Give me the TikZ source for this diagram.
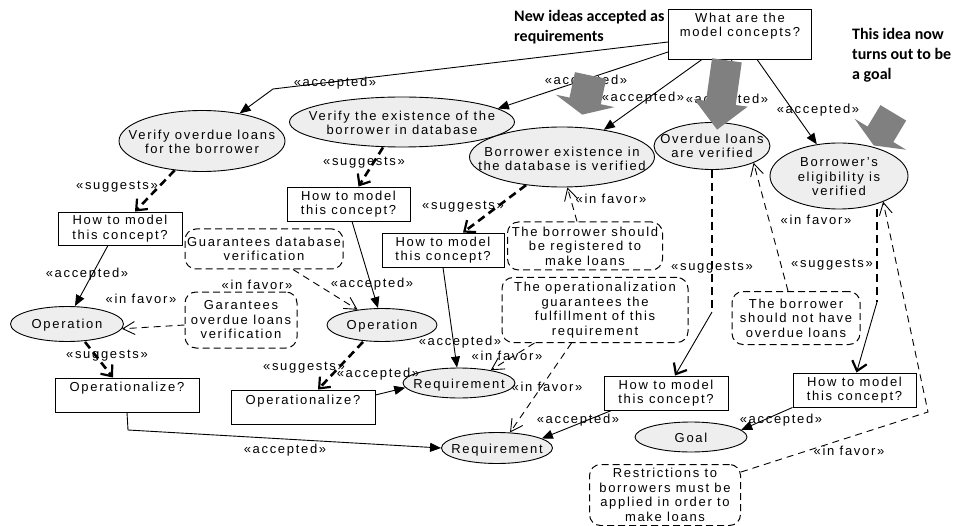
\documentclass[tikz,border=0pt]{standalone}
\usepackage{fontspec}
\setmainfont{Liberation Sans}[LetterSpace=13]
\newfontfamily\calloutfont{Carlito}
\usetikzlibrary{arrows.meta,shapes.geometric,calc}
\definecolor{conceptfill}{RGB}{238,238,238}
\definecolor{pointergray}{RGB}{128,128,128}

\tikzset{
  concept/.style={ellipse, draw=black, line width=0.9pt, fill=conceptfill, inner sep=0pt},
  ctext/.style={align=center, inner sep=0pt},
  qbox/.style={rectangle, draw=black, line width=0.9pt, fill=white, align=center, inner sep=0pt},
  note/.style={rectangle, rounded corners=11pt, draw=black, line width=1pt,
    dash pattern=on 7pt off 4pt, fill=white, align=center, inner sep=0pt},
  callout/.style={align=left, inner sep=0pt, anchor=north west,
    font=\calloutfont\bfseries\fontsize{16}{20}\selectfont},
  lbl/.style={inner sep=0pt},
  acc/.style={draw=black, line width=0.9pt, -{Triangle[length=11pt, width=9pt]}},
  sugg/.style={draw=black, line width=2.6pt, dash pattern=on 8pt off 5pt,
    -{Straight Barb[length=9pt, width=15pt, line width=2.2pt]}},
  sugline/.style={draw=black, line width=2.6pt, dash pattern=on 8pt off 5pt},
  thinbarb/.style={draw=black, line width=0.9pt,
    -{Straight Barb[length=9pt, width=15pt, line width=2.2pt]}},
  fav/.style={draw=black, line width=0.9pt, dash pattern=on 7pt off 5pt,
    -{Straight Barb[length=12pt, width=13pt, line width=0.9pt]}},
  pointer/.style={fill=pointergray, draw=none}
}

\begin{document}
\begin{tikzpicture}[x=1pt, y=-1pt,
  every node/.style={font=\fontsize{13}{14.5}\selectfont}]
\useasboundingbox (0,0) rectangle (965,526);
\fill[white] (0,0) rectangle (965,526);

% ---------- question boxes ----------
\node[qbox, minimum width=143, minimum height=50] (q0) at (740,34) {};
\node[ctext] (q0t) at (740,26) {What are the\\model concepts?};
\node[qbox, minimum width=124, minimum height=33] (howl) at (120,228.5) {How to model\\this concept?};
\node[qbox, minimum width=123, minimum height=34] (howm1) at (348.5,204) {How to model\\this concept?};
\node[qbox, minimum width=122, minimum height=34] (howm2) at (443,250) {How to model\\this concept?};
\node[qbox, minimum width=124, minimum height=34] (howc) at (666,393) {How to model\\this concept?};
\node[qbox, minimum width=123, minimum height=34] (howr) at (854.5,390) {How to model\\this concept?};
\node[qbox, minimum width=144, minimum height=34] (opzl) at (127,395) {};
\node[ctext] (opzlt) at (127,388) {Operationalize?};
\node[qbox, minimum width=144, minimum height=34] (opzm) at (303,407) {};
\node[ctext] (opzmt) at (303,401) {Operationalize?};

% ---------- concepts ----------
\node[concept, minimum width=166, minimum height=61] (vo) at (202,141) {};
\node[ctext] (vot) at (202,142) {Verify overdue loans\\for the borrower};
\node[concept, minimum width=225, minimum height=50] (ve) at (402,122) {};
\node[ctext] (vet) at (402,123) {Verify the existence of the\\borrower in database};
\node[concept, minimum width=185, minimum height=60] (be) at (562,157) {};
\node[ctext] (bet) at (562,159) {Borrower existence in\\the database is verified};
\node[concept, minimum width=116, minimum height=47] (ol) at (712,146) {};
\node[ctext] (olt) at (712,146) {Overdue loans\\are verified};
\node[concept, minimum width=138, minimum height=66] (bel) at (839,176) {};
\node[ctext] (belt) at (839,177) {Borrower's\\eligibility is\\verified};
\node[concept, minimum width=113, minimum height=35] (opl) at (67,324) {};
\node[ctext] (oplt) at (67,325) {Operation};
\node[concept, minimum width=110, minimum height=33] (opr) at (382,325) {};
\node[ctext] (oprt) at (382,326) {Operation};
\node[concept, minimum width=112, minimum height=30] (requ) at (459,383) {};
\node[ctext] (requt) at (459,385) {Requirement};
\node[concept, minimum width=111, minimum height=31] (reqb) at (497,448) {};
\node[ctext] (reqbt) at (497,450) {Requirement};
\node[concept, minimum width=112, minimum height=30] (goal) at (691,437) {};
\node[ctext] (goalt) at (691,438) {Goal};

% ---------- rationale notes ----------
\node[note, minimum width=158, minimum height=40] (gdv) at (264,249) {Guarantees database\\verification};
\node[note, minimum width=112, minimum height=56] (gol) at (241,320) {Garantees\\overdue loans\\verification};
\node[note, minimum width=155, minimum height=48] (bsr) at (585,246) {The borrower should\\be registered to\\make loans};
\node[note, minimum width=186, minimum height=65] (opz) at (595,310) {The operationalization\\guarantees the\\fulfillment of this\\requirement};
\node[note, minimum width=128, minimum height=53] (bno) at (796,318) {The borrower\\should not have\\overdue loans};
\node[note, minimum width=151, minimum height=61] (rst) at (665,495) {Restrictions to\\borrowers must be\\applied in order to\\make loans};

% ---------- callouts ----------
\node[callout] (ann1) at (514,10) {New ideas accepted as\\requirements};
\node[callout] (ann2) at (852,28) {This idea now\\turns out to be\\a goal};

% ---------- bends ----------
\coordinate (b1) at (273,89);
\coordinate (k4) at (712,312);
\coordinate (k5) at (877,302);
\coordinate (k10) at (128,430);
\coordinate (k7) at (928,412);

% ---------- accepted ----------
\draw[acc] ($(q0.west)+(0,8)$) -- (b1) -- (vo);
\draw[acc] ($(q0.west)+(0,18)$) -- (ve.8);
\draw[acc] ($(q0.south)+(-38,0)$) -- (be.33);
\draw[acc] ($(q0.south)+(-8,0)$) -- (ol.80);
\draw[acc] ($(q0.south)+(17,0)$) -- (bel.125);
\draw[acc] ($(howl.south)+(-12,0)$) -- ($(opl.north)+(8,0)$);
\draw[acc] ($(howm1.south)+(3.5,0)$) -- ($(opr.north)+(-4,0)$);
\draw[acc] (howm2.south) -- ($(requ.north)+(-2,0)$);
\draw[acc] ($(opzm.east)+(0,-12)$) -- (requ.185);
\draw[acc] (opzl.south) -- (k10) -- (reqb.west);
\draw[acc] ($(howc.south west)+(8,0)$) -- (reqb.12);
\draw[acc] (howr.south west) -- (goal.8);

% ---------- suggests ----------
\draw[sugg] (vo.-133) -- ($(howl.north)+(15,0)$);
\draw[sugg] ($(ve.south)+(-19,0)$) -- ($(howm1.north)+(10,0)$);
\draw[sugg] (be.-142) -- ($(howm2.north)+(20,0)$);
\draw[sugline] (ol.south) -- (k4);
\draw[thinbarb] (k4) -- ($(howc.north)+(9,0)$);
\draw[sugline] ($(bel.south)+(38,0)$) -- (k5);
\draw[thinbarb] (k5) -- ($(howr.north)+(2,0)$);
\draw[sugg] ($(opl.south)+(18,0)$) -- ($(opzl.north)+(-14,0)$);
\draw[sugg] ($(opr.south)+(-19,0)$) -- ($(opzm.north)+(15,0)$);

% ---------- in favor ----------
\draw[fav] ($(gol.west)+(0,5)$) -- (opl.-5);
\draw[fav] ($(gdv.south)+(29,0)$) -- (opr.148);
\draw[fav] ($(bsr.north)+(-8,0)$) -- (be.-80);
\draw[fav] ($(opz.south west)+(33,0)$) -- (requ.22);
\draw[fav] ($(opz.south west)+(70,0)$) -- (reqb.50);
\draw[fav] ($(bno.north)+(-8,0)$) -- (ol.-22);
\draw[fav] ($(rst.east)+(0,-23)$) -- (k7) -- ($(bel.south east)+(-5,2)$);

% ---------- connector labels ----------
\node[lbl] (la1) at (335,83) {«accepted»};
\node[lbl] (la2) at (586,81) {«accepted»};
\node[lbl] (la3) at (643,98) {«accepted»};
\node[lbl] (la4) at (727,100) {«accepted»};
\node[lbl] (la5) at (818,110) {«accepted»};
\node[lbl] (la6) at (87,274) {«accepted»};
\node[lbl] (la7) at (372,284) {«accepted»};
\node[lbl] (la8) at (460,342) {«accepted»};
\node[lbl] (la9) at (378,374) {«accepted»};
\node[lbl] (la10) at (285,450) {«accepted»};
\node[lbl] (la11) at (578,420) {«accepted»};
\node[lbl] (la12) at (781,420) {«accepted»};
\node[lbl] (ls1) at (117,187) {«suggests»};
\node[lbl] (ls2) at (364,163) {«suggests»};
\node[lbl] (ls3) at (463,207) {«suggests»};
\node[lbl] (ls4) at (712,268) {«suggests»};
\node[lbl] (ls5) at (832,265) {«suggests»};
\node[lbl] (ls6) at (107,356) {«suggests»};
\node[lbl] (ls7) at (304,368) {«suggests»};
\node[lbl] (lf1) at (141,299) {«in favor»};
\node[lbl] (lf2) at (257,285) {«in favor»};
\node[lbl] (lf3) at (611,199) {«in favor»};
\node[lbl] (lf4) at (507,356) {«in favor»};
\node[lbl] (lf5) at (547,387) {«in favor»};
\node[lbl] (lf6) at (816,220) {«in favor»};
\node[lbl] (lf7) at (849,451) {«in favor»};

% ---------- grey block pointers ----------
\fill[pointer, shift={(586,97)}, rotate=-12]
  (-16,-22) -- (16,-22) -- (16,4) -- (30,4) -- (0,18) -- (-30,4) -- (-16,4) -- cycle;
\fill[pointer, shift={(722,95)}, rotate=-8]
  (-15,-35) -- (15,-35) -- (15,8) -- (27,8) -- (0,35) -- (-27,8) -- (-15,8) -- cycle;
\fill[pointer, shift={(883,130)}, rotate=-31]
  (-15,-20) -- (15,-20) -- (15,5) -- (30,5) -- (0,18) -- (-30,5) -- (-15,5) -- cycle;
\end{tikzpicture}
\end{document}
